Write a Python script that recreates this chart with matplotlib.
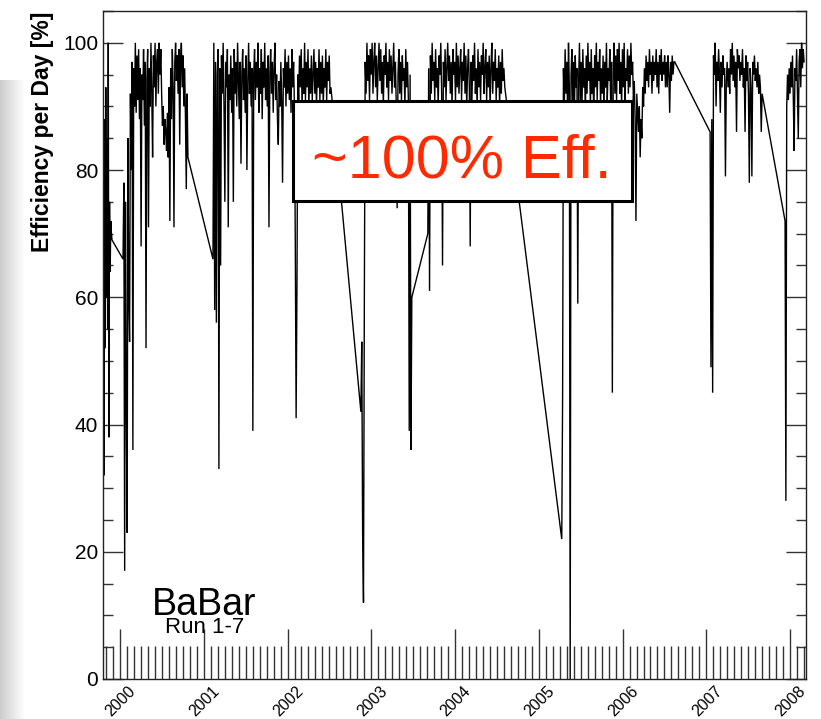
import numpy as np
import matplotlib
matplotlib.use("Agg")
import matplotlib.pyplot as plt
from matplotlib.patches import Rectangle
from matplotlib.transforms import ScaledTranslation
from matplotlib.ticker import FixedLocator, MultipleLocator

plt.rcParams['font.family'] = ['Liberation Sans', 'DejaVu Sans']

# ---- data: run periods (decimal years) and daily efficiency [%] ----
run_starts = [1999.800, 2000.036, 2001.110, 2002.876, 2003.675, 2005.274, 2007.045, 2007.940]
run_ends   = [1999.905, 2000.811, 2002.518, 2003.484, 2004.594, 2006.623, 2007.666, 2008.167]

eff_run1a = [92, 32, 88, 52, 93, 60, 85, 55, 100, 38, 75, 64, 72, 70, 69]
eff_run1b = [66, 78, 17, 75, 44, 23, 85, 60, 53, 92, 80, 97, 36, 96, 90, 100, 89, 98, 91, 99,
             88, 96, 68, 95, 91, 99, 87, 97, 52, 94, 99, 71, 96, 90, 100, 92, 82, 98, 93, 100,
             90, 97, 99, 92, 100, 95, 99, 92, 87, 90, 84, 88, 86, 83, 89, 82, 93, 72, 96, 88,
             99, 93, 71, 97, 100, 94, 98, 92, 99, 84, 97, 100, 93, 98, 90, 96, 88, 77, 92, 82]
eff_run2 = [66, 100, 58, 97, 56, 95, 99, 33, 96, 65, 98, 92, 100, 90, 75, 97, 93, 99, 71, 95,
            91, 98, 89, 96, 75, 99, 92, 97, 90, 100, 94, 88, 97, 81, 95, 99, 91, 96, 89, 98,
            80, 94, 100, 92, 97, 90, 96, 39, 95, 99, 91, 97, 93, 100, 89, 96, 92, 99, 88, 97,
            93, 100, 91, 96, 90, 98, 71, 95, 99, 92, 97, 89, 96, 100, 91, 95, 88, 84, 94, 90,
            97, 91, 78, 96, 93, 99, 90, 97, 92, 98, 91, 96, 89, 99, 93, 97, 90, 69, 41, 62,
            95, 91, 98, 93, 99, 90, 96, 92, 100, 91, 97, 93, 99, 90, 96, 92, 98, 91, 95, 99,
            92, 97, 90, 96, 93, 99, 91, 97, 92, 98, 90, 96, 93, 99, 91, 97, 94, 98, 92, 93]
eff_run3 = [42, 53, 23, 12, 60, 97, 92, 100, 94, 98, 91, 99, 95, 100, 92, 97, 100, 93, 98, 91,
            96, 100, 94, 99, 92, 97, 90, 98, 95, 100, 93, 97, 91, 99, 94, 98, 92, 96, 100, 93,
            97, 90, 74, 95, 99, 92, 97, 91, 98, 94, 96, 90, 99, 93, 97, 91, 39, 95, 36, 60]
eff_run4 = [70, 96, 61, 98, 92, 100, 94, 97, 91, 99, 93, 96, 90, 98, 95, 100, 92, 65, 97, 93,
            99, 91, 96, 100, 94, 98, 92, 97, 90, 99, 95, 97, 91, 100, 93, 98, 92, 96, 99, 91,
            97, 94, 100, 92, 98, 90, 96, 99, 93, 68, 97, 91, 98, 94, 100, 92, 96, 90, 99, 93,
            97, 91, 98, 95, 100, 92, 96, 99, 91, 97, 93, 98, 90, 96, 100, 92, 97, 94, 99, 91,
            96, 93, 98, 90, 97, 92, 99, 94, 96, 93]
eff_run5 = [22, 44, 96, 90, 99, 92, 97, 88, 100, 93, 0, 95, 99, 91, 97, 89, 98, 93, 96, 59,
            94, 100, 91, 97, 90, 99, 93, 96, 89, 98, 92, 100, 94, 97, 90, 99, 92, 96, 88, 98,
            93, 100, 91, 97, 94, 99, 90, 96, 92, 98, 89, 97, 93, 100, 91, 96, 94, 99, 90, 97,
            45, 95, 100, 92, 98, 91, 99, 94, 100, 92, 97, 90, 99, 93, 100, 91, 96, 94, 99, 92,
            98, 93, 100, 95, 97, 91, 94, 88, 72, 92, 89, 86, 90, 82, 88, 85, 93, 90, 96, 92,
            98, 94, 97, 93, 99, 95, 97, 92, 98, 94, 97, 95, 99, 93, 97, 92, 98, 95, 99, 94,
            97, 95, 98, 93, 97, 93, 98, 95, 89, 97, 94, 98, 95, 97, 97]
eff_run6 = [86, 49, 88, 45, 98, 95, 100, 90, 97, 94, 99, 95, 89, 97, 93, 98, 95, 96, 79, 94,
            97, 93, 96, 92, 99, 95, 100, 94, 98, 93, 97, 86, 99, 96, 98, 94, 97, 95, 99, 93,
            96, 86, 98, 94, 97, 92, 78, 96, 93, 79, 97, 95, 98, 94, 96, 93, 97, 92, 95, 93,
            86, 92]
eff_run7 = [72, 28, 90, 95, 91, 96, 92, 97, 93, 98, 91, 83, 96, 94, 99, 92, 85, 97, 99, 93,
            100, 96, 99, 97]

run_values = [eff_run1a, eff_run1b, eff_run2, eff_run3, eff_run4, eff_run5, eff_run6, eff_run7]

year_ticks = list(range(2000, 2009))
year_labels = [str(y) for y in year_ticks]
y_ticks = [0, 20, 40, 60, 80, 100]

# ---- figure ----
W, H = 821, 719
fig = plt.figure(figsize=(W / 100, H / 100), dpi=100)
fig.patch.set_facecolor('white')

# soft shadow at left edge (screenshot look)
sh = fig.add_axes([0, 0, 24 / W, (H - 80) / H], zorder=-5)
grad = np.linspace(0.80, 1.0, 64).reshape(1, -1)
sh.imshow(grad, cmap='gray', vmin=0, vmax=1, aspect='auto', extent=[0, 1, 0, 1])
sh.axis('off')

ax = fig.add_axes([103 / W, 40 / H, 703 / W, 668 / H])

x_all = np.concatenate([np.linspace(s, e, len(v)) for s, e, v in zip(run_starts, run_ends, run_values)])
y_all = np.concatenate([np.asarray(v, dtype=float) for v in run_values])
ax.plot(x_all, y_all, color='black', lw=1.0, solid_joinstyle='miter')

ax.set_xlim(1999.797, 2008.19)
ax.set_ylim(0, 105)

ax.xaxis.set_major_locator(FixedLocator(year_ticks))
ax.xaxis.set_minor_locator(FixedLocator(np.arange(1999 + 10 / 12, 2008.2, 1 / 12)))
ax.set_xticklabels(year_labels)
ax.yaxis.set_major_locator(FixedLocator(y_ticks))
ax.yaxis.set_minor_locator(MultipleLocator(5))

ax.tick_params(axis='x', which='major', direction='in', length=36, width=1.0,
               color='#333333', top=False, labelsize=11.5, pad=3.0)
ax.tick_params(axis='x', which='minor', direction='in', length=24, width=1.0,
               color='#333333', top=False)
ax.tick_params(axis='y', which='major', direction='in', length=14.4, width=1.0,
               color='#333333', left=True, right=True, labelsize=15, pad=3.5)
ax.tick_params(axis='y', which='minor', direction='in', length=7.2, width=1.0,
               color='#333333', left=True, right=True)

offset = ScaledTranslation(8 / 100, 0, fig.dpi_scale_trans)
for lab in ax.get_xticklabels():
    lab.set_rotation(45)
    lab.set_ha('right')
    lab.set_va('top')
    lab.set_rotation_mode('anchor')
    lab.set_transform(lab.get_transform() + offset)

for sp in ax.spines.values():
    sp.set_linewidth(1.0)
    sp.set_color('#222222')

# axis title
fig.text(42 / W, 1 - 132 / H, 'Efficiency per Day [%]', rotation=90, fontsize=16.5,
         fontweight='bold', ha='center', va='center')

# experiment label
fig.text(152 / W, 1 - 615 / H, 'BaBar', fontsize=27, ha='left', va='baseline', zorder=6)
fig.text(165 / W, 1 - 633 / H, 'Run 1-7', fontsize=16, ha='left', va='baseline', zorder=6)

# highlighted annotation box
rect = Rectangle((293 / W, 1 - 201 / H), (632 - 293) / W, 100 / H, transform=fig.transFigure,
                 facecolor='white', edgecolor='black', lw=2.2, zorder=5)
fig.add_artist(rect)
fig.text(462 / W, 1 - 177 / H, '~100% Eff.', color='#ff2a00', fontsize=44,
         ha='center', va='baseline', zorder=6)

fig.savefig('out.png', dpi=100)
